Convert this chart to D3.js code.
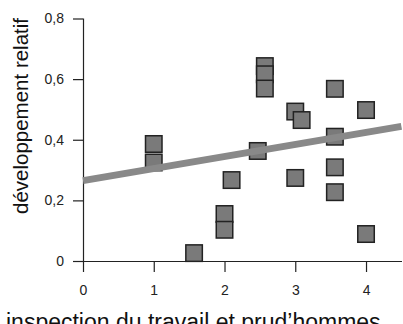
<!DOCTYPE html>
<html><head><meta charset="utf-8">
<script src="https://cdn.jsdelivr.net/npm/d3@7"></script>
<style>body{margin:0;background:#fff}svg{display:block}</style>
</head><body>
<svg id="c" width="403" height="324"></svg>
<script>
const xValues = [1, 1, 1.57, 2, 2, 2.1, 2.47, 2.57, 2.57, 2.57, 3.0, 3.0, 3.09, 3.56, 3.56, 3.56, 3.56, 4.0, 4.0];
const yValues = [0.386, 0.325, 0.026, 0.155, 0.103, 0.267, 0.363, 0.643, 0.616, 0.569, 0.274, 0.493, 0.465, 0.568, 0.41, 0.309, 0.227, 0.498, 0.089];
const xTicks = [0, 1, 2, 3, 4];
const yTicks = [0, 0.2, 0.4, 0.6, 0.8];
const trendX = [0, 4.5];
const trendY = [0.265, 0.444];
const xTitle = "inspection du travail et prud’hommes";
const yTitle = "développement relatif";

const svg = d3.select("#c");
const font = "Liberation Sans, Arial, Helvetica, sans-serif";
const x = d3.scaleLinear().domain([0, 4.5]).range([83, 401.4]);
const y = d3.scaleLinear().domain([0, 0.8]).range([261, 18.5]);
const fmt = d => d === 0 ? "0" : d3.format(".1f")(d).replace(".", ",");

const xAxis = svg.append("g").attr("transform", `translate(0,${y(0)})`)
  .call(d3.axisBottom(x).tickValues(xTicks).tickSize(11).tickPadding(13).tickFormat(d => d));
xAxis.select(".domain").attr("d", `M${x(0)},0.5H402`).attr("stroke", "#222").attr("stroke-width", 1.2);
const yAxis = svg.append("g").attr("transform", `translate(${x(0)},0)`)
  .call(d3.axisLeft(y).tickValues(yTicks).tickSize(10).tickPadding(9).tickFormat(fmt));
yAxis.select(".domain").attr("d", `M0.5,${y(0.8)}V${y(0)}`).attr("stroke", "#222").attr("stroke-width", 1.2);
svg.selectAll(".tick line").attr("stroke", "#222").attr("stroke-width", 1.2);
svg.selectAll(".tick text").attr("font-family", font).attr("font-size", 14).attr("fill", "#222");

const pts = xValues.map((v, i) => ({x: v, y: yValues[i]}));
const s = 16.5;
svg.append("g").selectAll("rect").data(pts).join("rect")
  .attr("x", d => x(d.x) - s / 2).attr("y", d => y(d.y) - s / 2)
  .attr("width", s).attr("height", s)
  .attr("fill", "#7a7a7a").attr("stroke", "#222").attr("stroke-width", 1.5);

svg.append("line")
  .attr("x1", x(trendX[0])).attr("y1", y(trendY[0]))
  .attr("x2", x(trendX[1])).attr("y2", y(trendY[1]))
  .attr("stroke", "#898989").attr("stroke-width", 7);

svg.append("text").attr("x", 6).attr("y", 330).attr("font-family", font).attr("font-size", 23)
  .attr("fill", "#111").text(xTitle);
svg.append("text").attr("transform", "translate(28,116) rotate(-90)").attr("text-anchor", "middle")
  .attr("font-family", font).attr("font-size", 20.5).attr("fill", "#111").text(yTitle);
</script>
</body></html>
